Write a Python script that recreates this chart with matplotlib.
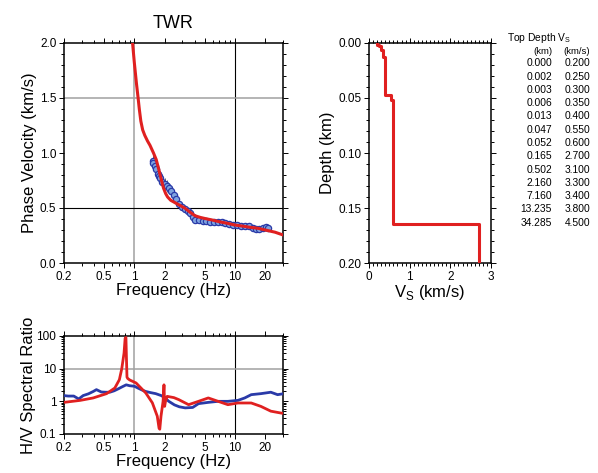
import numpy as np
import matplotlib
matplotlib.use("Agg")
import matplotlib.pyplot as plt
from matplotlib.ticker import FixedLocator, FixedFormatter, MultipleLocator, NullFormatter

plt.rcParams['font.family'] = ['Liberation Sans', 'DejaVu Sans']

# ---------------- data ----------------
title = "TWR"

# observed dispersion (blue points)
obs_f = [1.52, 1.55, 1.6, 1.65, 1.7, 1.75, 1.8, 1.9, 2.0, 2.1, 2.2, 2.3, 2.45, 2.6, 2.8,
         3.0, 3.2, 3.4, 3.6, 3.8, 4.0, 4.4, 4.8, 5.2, 5.7, 6.2, 6.8, 7.4, 8.0, 8.8,
         9.6, 10.5, 11.5, 12.5, 13.7, 15.0, 16.0, 17.5, 19.0, 20.5, 21.5]
obs_v = [0.93, 0.91, 0.88, 0.85, 0.81, 0.79, 0.77, 0.74, 0.72, 0.70, 0.68, 0.65, 0.62, 0.58, 0.54,
         0.51, 0.49, 0.47, 0.45, 0.42, 0.39, 0.39, 0.385, 0.38, 0.375, 0.37, 0.37, 0.37, 0.36, 0.355,
         0.345, 0.345, 0.34, 0.34, 0.335, 0.32, 0.305, 0.31, 0.315, 0.325, 0.32]
obs_err = [0.05, 0.05, 0.05, 0.05, 0.05, 0.05, 0.05, 0.05, 0.05, 0.05, 0.05, 0.04, 0.04, 0.03, 0.03,
           0.025, 0.025, 0.02, 0.02, 0.02, 0.015, 0.015, 0.015, 0.015, 0.015, 0.015, 0.015, 0.015, 0.015, 0.015,
           0.015, 0.015, 0.015, 0.015, 0.015, 0.015, 0.015, 0.015, 0.015, 0.015, 0.015]

# theoretical dispersion (red line)
th_f = [0.96, 1.0, 1.05, 1.09, 1.12, 1.16, 1.21, 1.27, 1.35, 1.43, 1.55, 1.65, 1.75, 1.85, 1.95, 2.05, 2.14, 2.3,
        2.63, 3.16, 3.6, 4.0, 4.5, 5.0, 6.0, 7.0, 8.5, 10, 12, 14, 17, 20, 25, 30]
th_v = [2.0, 1.82, 1.63, 1.5, 1.40, 1.29, 1.21, 1.16, 1.11, 1.07, 1.0, 0.94, 0.85, 0.76, 0.68, 0.63, 0.60, 0.57,
        0.54, 0.50, 0.46, 0.43, 0.415, 0.405, 0.39, 0.375, 0.36, 0.345, 0.335, 0.325, 0.315, 0.30, 0.28, 0.255]

# observed H/V (blue)
hv_obs_f = [0.2, 0.22, 0.25, 0.28, 0.31, 0.35, 0.39, 0.42, 0.47, 0.52, 0.57, 0.63, 0.69, 0.76, 0.83,
            0.9, 1.0, 1.1, 1.2, 1.3, 1.45, 1.63, 1.85, 2.0, 2.2, 2.5, 2.8, 3.2, 3.8, 4.34,
            5.43, 6.8, 8.5, 10.7, 12.5, 14.5, 18.1, 22.7, 26.5, 30]
hv_obs = [1.5, 1.45, 1.45, 1.18, 1.5, 1.7, 2.0, 2.28, 1.93, 1.9, 1.9, 2.1, 2.4, 2.8, 3.2,
          3.0, 2.9, 2.5, 2.2, 2.0, 1.85, 1.72, 1.5, 1.3, 1.0, 0.78, 0.68, 0.63, 0.65, 0.85,
          0.93, 1.0, 1.0, 1.07, 1.27, 1.6, 1.72, 1.9, 1.6, 1.7]

# theoretical H/V (red)
hv_th_f = [0.2, 0.29, 0.39, 0.53, 0.64, 0.71, 0.75, 0.79, 0.81, 0.825, 0.835, 0.845, 0.86, 0.9,
           1.04, 1.3, 1.51, 1.69, 1.76, 1.79, 1.84, 1.93, 1.97, 2.0, 2.04, 2.12, 2.47, 2.76,
           3.46, 4.34, 5.43, 6.8, 8.5, 10.7, 14.5, 18.1, 22.7, 28.4, 30]
hv_th = [0.93, 1.07, 1.27, 1.72, 2.56, 4.6, 10, 30, 85, 90, 20, 5.5, 5.0, 4.5,
         3.65, 1.8, 0.9, 0.35, 0.15, 0.14, 0.35, 1.0, 3.2, 0.7, 1.0, 1.42, 1.3, 1.13,
         0.79, 1.0, 1.27, 1.0, 0.79, 0.89, 0.89, 0.7, 0.5, 0.44, 0.43]

# velocity model
top_depth = [0.000, 0.002, 0.003, 0.006, 0.013, 0.047, 0.052, 0.165, 0.502, 2.160, 7.160, 13.235, 34.285]
vs = [0.200, 0.250, 0.300, 0.350, 0.400, 0.550, 0.600, 2.700, 3.100, 3.300, 3.400, 3.800, 4.500]

freq_ticks = [0.2, 0.5, 1, 2, 5, 10, 20]
freq_labels = ["0.2", "0.5", "1", "2", "5", "10", "20"]
freq_minor = [0.3, 0.4, 0.6, 0.7, 0.8, 0.9, 3, 4, 6, 7, 8, 9, 30]

RED = "#e02020"
BLUE = "#2a3aa8"

# ---------------- figure ----------------
fig = plt.figure(figsize=(5.98, 4.73), dpi=100)
W, H = 598, 473

def ax_at(l, t, r, b):
    return fig.add_axes([l / W, 1 - b / H, (r - l) / W, (b - t) / H])

ax1 = ax_at(64, 43, 283, 263)
ax2 = ax_at(64, 336, 283, 434)
ax3 = ax_at(369, 43, 491, 263)

LFS = 12

def style(ax, fs=8.5):
    for s in ax.spines.values():
        s.set_linewidth(1.1)
    ax.tick_params(which='both', direction='out', top=True, right=True, labelsize=fs,
                   width=0.7, pad=2)
    ax.tick_params(which='major', length=3.5)
    ax.tick_params(which='minor', length=2)

def freq_axis(ax):
    ax.set_xscale('log')
    ax.set_xlim(0.2, 30)
    ax.xaxis.set_major_locator(FixedLocator(freq_ticks))
    ax.xaxis.set_major_formatter(FixedFormatter(freq_labels))
    ax.xaxis.set_minor_locator(FixedLocator(freq_minor))
    ax.xaxis.set_minor_formatter(NullFormatter())
    ax.axvline(1, color='#a0a0a0', lw=1.1, zorder=0)
    ax.axvline(10, color='black', lw=0.8, zorder=0)
    ax.set_xlabel("Frequency (Hz)", fontsize=LFS, labelpad=0)

# ---- dispersion
style(ax1)
freq_axis(ax1)
ax1.set_ylim(0, 2.0)
ax1.yaxis.set_major_locator(MultipleLocator(0.5))
ax1.yaxis.set_minor_locator(MultipleLocator(0.1))
ax1.yaxis.set_major_formatter(matplotlib.ticker.FormatStrFormatter('%.1f'))
ax1.axhline(0.5, color='black', lw=0.8, zorder=0)
ax1.axhline(1.5, color='#a0a0a0', lw=1.1, zorder=0)
ax1.errorbar(obs_f, obs_v, yerr=obs_err, fmt='o', ms=4.5, mfc='#7fa4e0', mec=BLUE, mew=0.9,
             ecolor='#333333', elinewidth=0.5, capsize=0, zorder=3)
ax1.plot(th_f, th_v, color=RED, lw=2.2, zorder=4)
ax1.set_ylabel("Phase Velocity (km/s)", fontsize=LFS, labelpad=2)
ax1.set_title(title, fontsize=13, pad=11)

# ---- H/V
style(ax2)
freq_axis(ax2)
ax2.set_yscale('log')
ax2.set_ylim(0.1, 100)
ax2.yaxis.set_major_locator(FixedLocator([0.1, 1, 10, 100]))
ax2.yaxis.set_major_formatter(FixedFormatter(["0.1", "1", "10", "100"]))
ax2.yaxis.set_minor_locator(matplotlib.ticker.LogLocator(base=10, subs=np.arange(2, 10)))
ax2.yaxis.set_minor_formatter(NullFormatter())
ax2.axhline(10, color='#a0a0a0', lw=1.1, zorder=0)
ax2.plot(hv_obs_f, hv_obs, color=BLUE, lw=2.0, zorder=3)
ax2.plot(hv_th_f, hv_th, color=RED, lw=2.0, zorder=4)
ax2.set_ylabel("H/V Spectral Ratio", fontsize=LFS, labelpad=0)

# ---- Vs profile
style(ax3)
ax3.set_xlim(0, 3)
ax3.set_ylim(0.2, 0.0)
ax3.xaxis.set_major_locator(MultipleLocator(1))
ax3.xaxis.set_minor_locator(MultipleLocator(0.1))
ax3.yaxis.set_major_locator(MultipleLocator(0.05))
ax3.yaxis.set_minor_locator(MultipleLocator(0.01))
ax3.yaxis.set_major_formatter(matplotlib.ticker.FormatStrFormatter('%.2f'))
step_d = []
step_v = []
for i in range(len(vs)):
    d0 = top_depth[i]
    d1 = top_depth[i + 1] if i + 1 < len(vs) else top_depth[i] + 10
    step_d += [d0, d1]
    step_v += [vs[i], vs[i]]
ax3.plot(step_v, step_d, color=RED, lw=2.2, zorder=3)
ax3.set_xlabel("V$_\\mathregular{S}$ (km/s)", fontsize=LFS, labelpad=0)
ax3.set_ylabel("Depth (km)", fontsize=LFS, labelpad=2)

# ---- table
tfs = 7.4
fig.text(507 / W, 1 - 38 / H, "Top Depth V$_\\mathregular{S}$", fontsize=tfs, ha='left', va='center')
fig.text(552 / W, 1 - 51.5 / H, "(km)", fontsize=tfs - 0.6, ha='right', va='center')
fig.text(590 / W, 1 - 51.5 / H, "(km/s)", fontsize=tfs - 0.6, ha='right', va='center')
for i, (d, v) in enumerate(zip(top_depth, vs)):
    y = 63.3 + i * 13.28
    fig.text(552 / W, 1 - y / H, f"{d:.3f}", fontsize=tfs, ha='right', va='center')
    fig.text(590 / W, 1 - y / H, f"{v:.3f}", fontsize=tfs, ha='right', va='center')

fig.savefig("out.png", dpi=100)
